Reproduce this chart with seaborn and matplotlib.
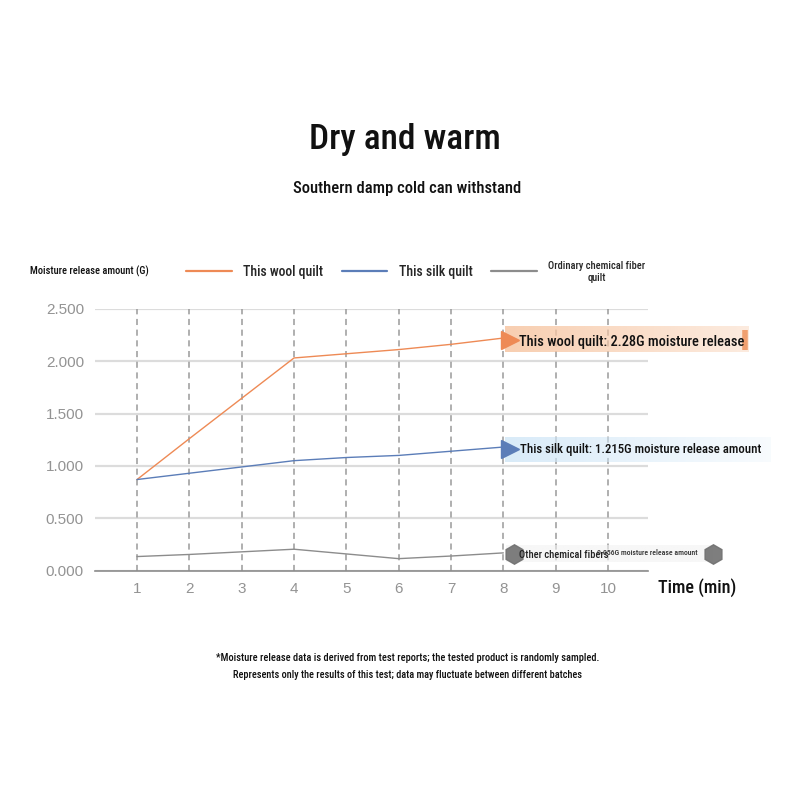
#!/usr/bin/env python3
# moisture release line chart

import os
import numpy as np
import pandas as pd

import matplotlib as mpl
mpl.use('Agg')
import matplotlib.pyplot as plt
from matplotlib import font_manager
import seaborn as sns

# ---- data ----
times = [1, 2, 3, 4, 5, 6, 7, 8]
wool = [0.87, 1.26, 1.645, 2.03, 2.07, 2.11, 2.16, 2.22]
silk = [0.87, 0.93, 0.99, 1.05, 1.08, 1.10, 1.14, 1.18]
chem = [0.135, 0.155, 0.18, 0.205, 0.16, 0.115, 0.14, 0.17]
series_names = ['This wool quilt', 'This silk quilt', 'Ordinary chemical fiber\nquilt']
x_ticks = [1, 2, 3, 4, 5, 6, 7, 8, 9, 10]
y_ticks = [0.0, 0.5, 1.0, 1.5, 2.0, 2.5]
y_ticklabels = ['0.000', '0.500', '1.000', '1.500', '2.000', '2.500']
end_labels = ['This wool quilt: 2.28G moisture release',
              'This silk quilt: 1.215G moisture release amount',
              'Other chemical fibers']
chem_extra = '0.056G moisture release amount'

colors = ['#ee8a55', '#5b7db8', '#8c8c8c']

df = pd.DataFrame({
    'time': times * 3,
    'value': wool + silk + chem,
    'series': [series_names[0]] * len(times) + [series_names[1]] * len(times) + [series_names[2]] * len(times),
})


def pick_condensed():
    # look for some narrow font file, else plain DejaVu
    files = [f.fname for f in font_manager.fontManager.ttflist]
    keys = ['robotocondensed-medium', 'robotocondensed-regular', 'liberationsansnarrow-regular',
            'notosans-condensedmedium', 'notosans-condensed.', 'opensans-condensed',
            'dejavusanscondensed.ttf']
    for k in keys:
        for fn in files:
            if k in os.path.basename(fn).lower():
                return font_manager.FontProperties(fname=fn)
    for fn in files:
        b = os.path.basename(fn).lower()
        if ('condensed' in b or 'narrow' in b) and 'bold' not in b and 'italic' not in b and 'oblique' not in b:
            return font_manager.FontProperties(fname=fn)
    return font_manager.FontProperties(family='DejaVu Sans', stretch='condensed')


sns.set_theme(style='white')
plt.rcParams['font.family'] = ['Liberation Sans', 'DejaVu Sans']
cond = pick_condensed()


def fp(size):
    p = cond.copy()
    p.set_size(size)
    return p


fig = plt.figure(figsize=(8, 8), dpi=100)
ax = fig.add_axes([95 / 800, 1 - 570.7 / 800, (648 - 95) / 800, (570.7 - 308.7) / 800])

# grid
for y in y_ticks:
    ax.axhline(y, color='#dcdcdc', lw=1.6, zorder=0)
ax.vlines(x_ticks, 0, 2.5, colors='#9a9a9a', lw=1.1, linestyles=(0, (4, 3)), zorder=1)

sns.lineplot(data=df, x='time', y='value', hue='series', palette=colors,
             linewidth=1.0, ax=ax, legend=True, zorder=3)

ax.set_xticks(x_ticks)
ax.set_xticklabels([str(t) for t in x_ticks])
ax.set_yticks(y_ticks)
ax.set_yticklabels(y_ticklabels)
ax.tick_params(axis='both', length=0, labelsize=11, labelcolor='#939393', pad=8)
ax.set_xlabel('')
ax.set_ylabel('')
for s in ['top', 'right', 'left']:
    ax.spines[s].set_visible(False)
ax.spines['bottom'].set_color('#8c8c8c')
ax.spines['bottom'].set_linewidth(1.2)

# legend
handles, labels = ax.get_legend_handles_labels()
ax.get_legend().remove()
leg = fig.legend(handles, labels, loc='center left', bbox_to_anchor=(174 / 800, 1 - 272 / 800),
                 ncol=3, frameon=False, handlelength=3.3, handletextpad=0.85,
                 columnspacing=1.35, prop=fp(9.9))
for t in leg.get_texts():
    t.set_multialignment('center')
leg.get_texts()[2].set_fontsize(7.5)
for h in leg.legend_handles:
    h.set_linewidth(1.6)


# gradient label boxes
def grad_box(x0, x1, y0, y1, rgb, a0, a1):
    n = 200
    img = np.zeros((1, n, 4))
    img[..., :3] = rgb
    img[0, :, 3] = np.linspace(a0, a1, n)
    ax.imshow(img, extent=[x0, x1, y0, y1], aspect='auto', zorder=2, clip_on=False,
              interpolation='bilinear')


grad_box(8.03, 12.68, 2.087, 2.335, mpl.colors.to_rgb('#f7c6a3'), 0.85, 0.35)
grad_box(8.03, 13.1, 1.04, 1.276, mpl.colors.to_rgb('#cfe6f7'), 0.8, 0.15)
grad_box(8.05, 12.0, 0.08, 0.235, mpl.colors.to_rgb('#f2f2f2'), 0.6, 0.6)
ax.set_xlim(0.197, 10.764)
ax.set_ylim(0, 2.5)

ax.plot([8.13], [2.20], marker='>', ms=13, color='#ee8a55', clip_on=False, zorder=4)
ax.plot([12.62], [2.20], marker='|', ms=14, mew=4, color='#f0a070', clip_on=False, zorder=4)
ax.plot([8.13], [1.16], marker='>', ms=13, color='#5b7db8', clip_on=False, zorder=4)
ax.plot([8.2, 12.0], [0.16, 0.16], ls='none', marker='h', ms=14, color='#707070',
        alpha=0.9, clip_on=False, zorder=4)

ax.text(8.30, 2.185, end_labels[0], fontproperties=fp(10.4), va='center', ha='left',
        color='#111111', zorder=5, clip_on=False)
ax.text(8.32, 1.16, end_labels[1], fontproperties=fp(9.2), va='center', ha='left',
        color='#111111', zorder=5, clip_on=False)
ax.text(8.30, 0.15, end_labels[2], fontproperties=fp(7.5), va='center', ha='left',
        color='#222222', zorder=5, clip_on=False)
ax.text(9.78, 0.17, chem_extra, fontproperties=fp(5.6), va='center', ha='left',
        color='#333333', zorder=5, clip_on=False)

# titles and notes
fig.text(0.506, 1 - 140 / 800, 'Dry and warm', fontproperties=fp(25.5), ha='center',
         va='center', color='#111111')
fig.text(0.509, 1 - 188 / 800, 'Southern damp cold can withstand', fontproperties=fp(12),
         ha='center', va='center', color='#111111')
fig.text(30 / 800, 1 - 271 / 800, 'Moisture release amount (G)', fontproperties=fp(7.5),
         ha='left', va='center', color='#111111')
fig.text(658 / 800, 1 - 588 / 800, 'Time (min)', fontproperties=fp(13), ha='left',
         va='center', color='#111111')
fig.text(0.509, 1 - 658 / 800,
         '*Moisture release data is derived from test reports; the tested product is randomly sampled.',
         fontproperties=fp(7.45), ha='center', va='center', color='#111111')
fig.text(0.509, 1 - 675 / 800,
         'Represents only the results of this test; data may fluctuate between different batches',
         fontproperties=fp(7.4), ha='center', va='center', color='#111111')

fig.savefig('out.png', dpi=100, facecolor='white')
